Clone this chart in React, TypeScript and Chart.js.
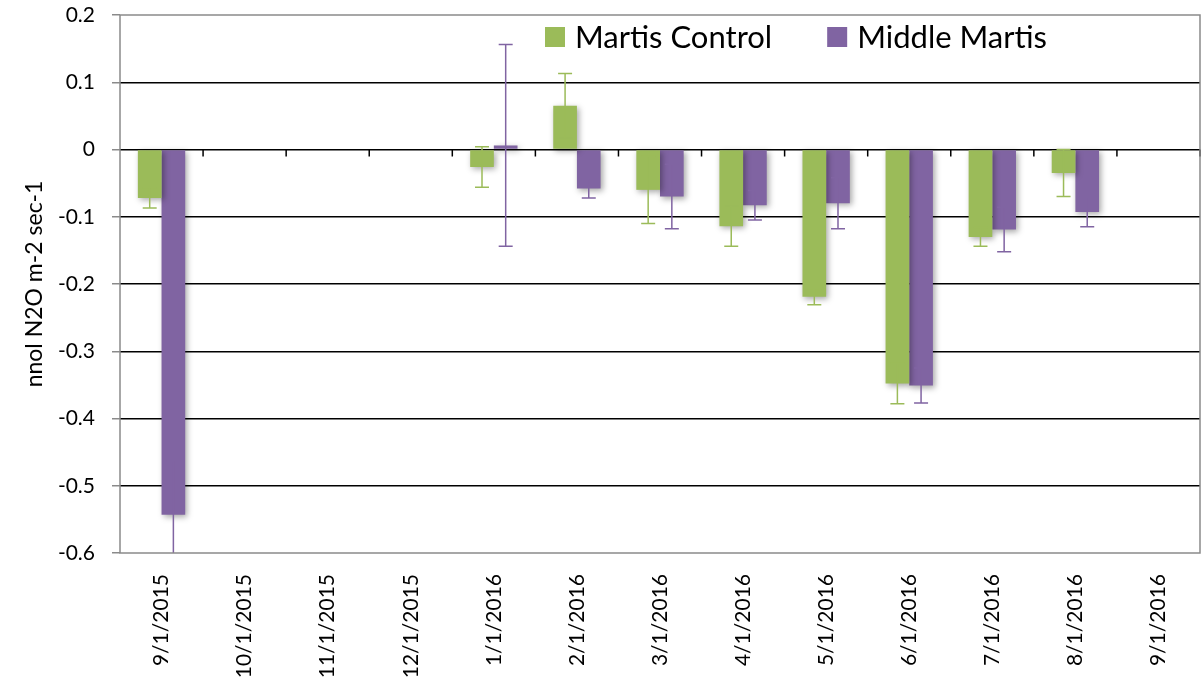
import { useEffect, useRef } from 'react';
import { Chart, registerables } from 'chart.js';

Chart.register(...registerables);

const categories = ['9/1/2015', '10/1/2015', '11/1/2015', '12/1/2015', '1/1/2016', '2/1/2016', '3/1/2016', '4/1/2016', '5/1/2016', '6/1/2016', '7/1/2016', '8/1/2016', '9/1/2016'];
const martisControl = [-0.072, null, null, null, -0.026, 0.065, -0.060, -0.114, -0.219, -0.348, -0.130, -0.035, null];
const martisControlErr = [0.015, null, null, null, 0.030, 0.048, 0.050, 0.030, 0.012, 0.030, 0.014, 0.035, null];
const middleMartis = [-0.543, null, null, null, 0.006, -0.058, -0.070, -0.083, -0.080, -0.351, -0.119, -0.093, null];
const middleMartisErr = [0.08, null, null, null, 0.150, 0.014, 0.048, 0.022, 0.038, 0.026, 0.033, 0.022, null];
const seriesNames = ['Martis Control', 'Middle Martis'];
const seriesColors = ['#9BBB59', '#8064A2'];
const yTitle = 'nnol N2O m-2 sec-1';
const yMin = -0.6;
const yMax = 0.2;
const yStep = 0.1;

const FONT = 'Lato, "Open Sans", sans-serif';
const GRAY = '#8a8a8a';

const errs = [martisControlErr, middleMartisErr];

const customPlugin = {
  id: 'excelLook',
  beforeDatasetsDraw(chart: any) {
    const ctx = chart.ctx;
    ctx.save();
    ctx.shadowColor = 'rgba(0,0,0,0.35)';
    ctx.shadowBlur = 6;
    ctx.shadowOffsetX = 2;
    ctx.shadowOffsetY = 2;
  },
  afterDatasetsDraw(chart: any) {
    const ctx = chart.ctx;
    ctx.restore();
    const area = chart.chartArea;
    const yScale = chart.scales.y;
    // error bars
    ctx.save();
    ctx.beginPath();
    ctx.rect(area.left, area.top, area.right - area.left, area.bottom - area.top);
    ctx.clip();
    chart.data.datasets.forEach((ds: any, di: number) => {
      const meta = chart.getDatasetMeta(di);
      ctx.strokeStyle = seriesColors[di];
      ctx.lineWidth = 1.5;
      meta.data.forEach((bar: any, j: number) => {
        const v = ds.data[j];
        const e = errs[di][j];
        if (v == null || e == null) return;
        const x = bar.x;
        const yHi = yScale.getPixelForValue(v + e);
        const yLo = yScale.getPixelForValue(v - e);
        const cap = 7;
        ctx.beginPath();
        ctx.moveTo(x, yHi);
        ctx.lineTo(x, yLo);
        ctx.moveTo(x - cap, yHi);
        ctx.lineTo(x + cap, yHi);
        ctx.moveTo(x - cap, yLo);
        ctx.lineTo(x + cap, yLo);
        ctx.stroke();
      });
    });
    ctx.restore();
    // category tick marks on the zero line
    const y0 = yScale.getPixelForValue(0);
    const n = categories.length;
    const w = (area.right - area.left) / n;
    ctx.save();
    ctx.strokeStyle = '#000';
    ctx.lineWidth = 1.5;
    ctx.beginPath();
    for (let i = 1; i <= n; i++) {
      const x = area.left + i * w;
      ctx.moveTo(x, y0);
      ctx.lineTo(x, y0 + 7);
    }
    ctx.stroke();
    ctx.restore();
  },
  afterDraw(chart: any) {
    const ctx = chart.ctx;
    const area = chart.chartArea;
    // plot border
    ctx.save();
    ctx.strokeStyle = GRAY;
    ctx.lineWidth = 1.5;
    ctx.strokeRect(area.left, area.top, area.right - area.left, area.bottom - area.top);
    ctx.restore();
    // y title
    ctx.save();
    ctx.fillStyle = '#000';
    ctx.font = `23px ${FONT}`;
    ctx.textAlign = 'center';
    ctx.textBaseline = 'middle';
    ctx.translate(35, (area.top + area.bottom) / 2);
    ctx.rotate(-Math.PI / 2);
    ctx.fillText(yTitle, 0, 0);
    ctx.restore();
    // legend
    ctx.save();
    ctx.font = `31px ${FONT}`;
    ctx.textBaseline = 'middle';
    ctx.textAlign = 'left';
    let x = area.left + 425;
    const cy = area.top + 22;
    seriesNames.forEach((name, i) => {
      ctx.fillStyle = seriesColors[i];
      ctx.fillRect(x, cy - 10, 20, 20);
      ctx.fillStyle = '#000';
      ctx.fillText(name, x + 30, cy + 1);
      x += 30 + ctx.measureText(name).width + 55;
    });
    ctx.restore();
  },
};

export default function App() {
  const ref = useRef<HTMLCanvasElement | null>(null);
  useEffect(() => {
    document.body.style.margin = '0';
    const canvas = ref.current;
    if (!canvas) return;
    const chart = new Chart(canvas, {
      type: 'bar',
      data: {
        labels: categories,
        datasets: [
          { label: seriesNames[0], data: martisControl, backgroundColor: seriesColors[0], borderWidth: 0 },
          { label: seriesNames[1], data: middleMartis, backgroundColor: seriesColors[1], borderWidth: 0 },
        ],
      },
      options: {
        responsive: false,
        devicePixelRatio: 1,
        animation: false,
        layout: { padding: { top: 15, right: 3, left: 0, bottom: 0 } },
        datasets: { bar: { categoryPercentage: 0.57, barPercentage: 1 } },
        plugins: { legend: { display: false }, tooltip: { enabled: false } },
        scales: {
          x: {
            grid: { display: false, drawTicks: false },
            border: { display: false },
            ticks: {
              color: '#000',
              font: { family: FONT, size: 21 },
              minRotation: 90,
              maxRotation: 90,
              padding: 21,
              autoSkip: false,
            },
            afterFit(scale: any) {
              scale.height = 127;
              scale.paddingLeft = 0;
              scale.paddingRight = 0;
              scale.paddingTop = 0;
              scale.paddingBottom = 0;
            },
          },
          y: {
            min: yMin,
            max: yMax,
            border: { display: false },
            grid: {
              color: (c: any) => {
                const v = c.tick ? Math.round(c.tick.value * 10) / 10 : 0;
                return v === yMax || v === yMin ? 'rgba(0,0,0,0)' : '#000';
              },
              tickColor: GRAY,
              lineWidth: 1.5,
              tickLength: 8,
            },
            ticks: {
              stepSize: yStep,
              color: '#000',
              font: { family: FONT, size: 21 },
              padding: 17,
              callback: (v: any) => {
                const r = Math.round(Number(v) * 10) / 10;
                return r === 0 ? '0' : String(r);
              },
            },
            afterFit(scale: any) {
              scale.width = 120;
              scale.paddingTop = 0;
              scale.paddingBottom = 0;
              scale.paddingLeft = 0;
              scale.paddingRight = 0;
            },
          },
        },
      },
      plugins: [customPlugin],
    } as any);
    return () => chart.destroy();
  }, []);
  return (
    <div style={{ width: 1203, height: 680 }}>
      <canvas ref={ref} width={1203} height={680} style={{ display: 'block', width: 1203, height: 680 }} />
    </div>
  );
}
